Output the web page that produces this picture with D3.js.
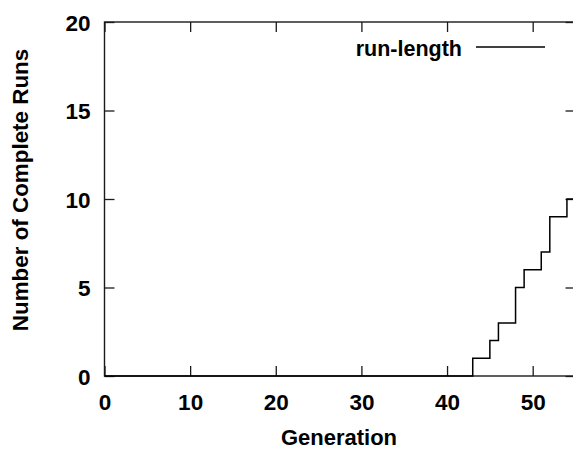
<!DOCTYPE html>
<html>
<head>
<meta charset="utf-8">
<script src="https://cdn.jsdelivr.net/npm/d3@7"></script>
<style>
  html, body { margin: 0; padding: 0; background: #fff; }
  svg { display: block; }
  text { font-family: "Liberation Sans", Arial, Helvetica, sans-serif; font-weight: bold; fill: #000; }
</style>
</head>
<body>
<svg id="chart" width="573" height="450"></svg>
<script>
// Completed runs per generation (value holds from each generation onward)
const generations = [0, 43, 45, 46, 48, 49, 51, 52, 54, 55];
const completeRuns = [0, 1, 2, 3, 5, 6, 7, 9, 10, 10];
const xTicks = [0, 10, 20, 30, 40, 50];
const yTicks = [0, 5, 10, 15, 20];
const seriesName = "run-length";

const svg = d3.select("#chart");
const margin = { left: 104.5, top: 22, right: 575.5, bottom: 376 };

const x = d3.scaleLinear().domain([0, 55]).range([margin.left, margin.right]);
const y = d3.scaleLinear().domain([0, 20]).range([margin.bottom, margin.top]);

const tickLen = 10;
const stroke = "#1a1a1a";

// Frame
svg.append("rect")
  .attr("x", x(0)).attr("y", y(20))
  .attr("width", x(55) - x(0)).attr("height", y(0) - y(20))
  .attr("fill", "none").attr("stroke", stroke).attr("stroke-width", 1.4);

// Bottom / top axes (ticks point inward, labels only at the bottom)
const xAxisB = d3.axisBottom(x).tickValues(xTicks).tickSize(-tickLen).tickPadding(18);
const gxB = svg.append("g").attr("transform", `translate(0,${y(0)})`).call(xAxisB);
const xAxisT = d3.axisTop(x).tickValues(xTicks).tickSize(-tickLen).tickFormat("");
const gxT = svg.append("g").attr("transform", `translate(0,${y(20)})`).call(xAxisT);

// Left / right axes
const yAxisL = d3.axisLeft(y).tickValues(yTicks).tickSize(-tickLen).tickPadding(14);
const gyL = svg.append("g").attr("transform", `translate(${x(0)},0)`).call(yAxisL);
const yAxisR = d3.axisRight(y).tickValues(yTicks).tickSize(-tickLen).tickFormat("");
const gyR = svg.append("g").attr("transform", `translate(${x(55)},0)`).call(yAxisR);

[gxB, gxT, gyL, gyR].forEach(g => {
  g.select(".domain").remove();
  g.selectAll(".tick line").attr("stroke", stroke).attr("stroke-width", 1.3);
  g.selectAll(".tick text")
    .style("font-size", "22.5px")
    .style("font-family", '"Liberation Sans", Arial, sans-serif')
    .style("font-weight", "bold")
    .attr("fill", "#000");
});
gyL.selectAll(".tick text").attr("dy", "0.36em");
gxB.selectAll(".tick text").attr("dy", "0.71em");

// Axis titles
svg.append("text")
  .attr("x", 339)
  .attr("y", 445)
  .attr("text-anchor", "middle")
  .style("font-size", "22px")
  .text("Generation");

svg.append("text")
  .attr("transform", "translate(28,190) rotate(-90)")
  .attr("text-anchor", "middle")
  .style("font-size", "22.4px")
  .text("Number of Complete Runs");

// Step line
const line = d3.line()
  .x((d, i) => x(generations[i]))
  .y(d => y(d))
  .curve(d3.curveStepAfter);

svg.append("path")
  .datum(completeRuns)
  .attr("d", line)
  .attr("fill", "none")
  .attr("stroke", "#000")
  .attr("stroke-width", 1.5);

// Legend
svg.append("text")
  .attr("x", 462)
  .attr("y", 56)
  .attr("text-anchor", "end")
  .style("font-size", "21.5px")
  .text(seriesName);
svg.append("line")
  .attr("x1", 476).attr("x2", 545)
  .attr("y1", 47).attr("y2", 47)
  .attr("stroke", "#000").attr("stroke-width", 1.5);
</script>
</body>
</html>
